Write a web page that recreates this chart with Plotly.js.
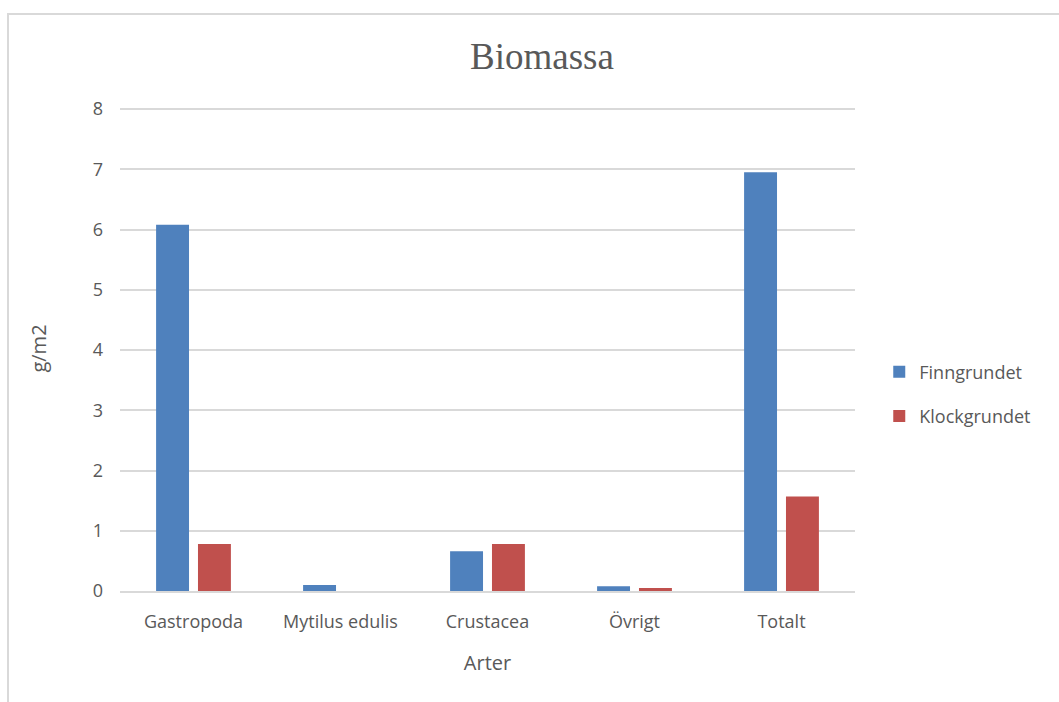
<!DOCTYPE html>
<html><head><meta charset="utf-8">
<script src="https://cdn.plot.ly/plotly-3.0.1.min.js"></script>
<style>
html,body{margin:0;padding:0;background:#fff;overflow:hidden;}
#frame{position:absolute;left:7px;top:13px;width:1100px;height:760px;border:2px solid #d9d9d9;box-sizing:border-box;}
#chart{position:absolute;left:0;top:0;width:1059px;height:702px;}
</style></head>
<body>
<div id="frame"></div>
<div id="chart"></div>
<script>
const categories = ["Gastropoda", "Mytilus edulis", "Crustacea", "Övrigt", "Totalt"];
const finngrundet = [6.08, 0.10, 0.66, 0.08, 6.95];
const klockgrundet = [0.78, 0.0, 0.78, 0.05, 1.57];
const seriesNames = ["Finngrundet", "Klockgrundet"];
const yTicks = [0, 1, 2, 3, 4, 5, 6, 7, 8];

const txt = '#595959';
const data = [
  {type:'bar', x:categories, y:finngrundet, name:seriesNames[0], legendgroup:'a', marker:{color:'#4f81bd'}},
  {type:'bar', x:categories, y:klockgrundet, name:seriesNames[1], legendgroup:'b', marker:{color:'#c0504d'}}
];
const layout = {
  width:1059, height:702,
  paper_bgcolor:'rgba(0,0,0,0)', plot_bgcolor:'rgba(0,0,0,0)',
  margin:{l:120, r:204, t:106, b:111},
  title:{text:'Biomassa', x:542/1059, xref:'container', xanchor:'center', y:1-56/702, yref:'container', yanchor:'middle', font:{family:'Liberation Serif', size:37, color:txt}},
  barmode:'group', bargap:0.43, bargroupgap:0.214,
  font:{family:'Open Sans', color:txt},
  xaxis:{
    title:{text:'Arter', font:{size:20, color:txt}, standoff:24},
    tickfont:{size:18, color:txt}, showgrid:false, zeroline:false,
    showline:true, linecolor:'#d9d9d9', linewidth:2, ticks:'', ticklabelstandoff:13
  },
  yaxis:{
    title:{text:'g/m2', font:{size:20, color:txt}, standoff:40},
    range:[0,8.05], tickvals:yTicks, ticktext:yTicks.map(String),
    tickfont:{size:18, color:txt}, gridcolor:'#d9d9d9', gridwidth:2,
    zeroline:false, showline:false, ticks:'', ticklabelstandoff:16
  },
  legend:{x:1.033, y:(591-394)/485, yanchor:'middle', xanchor:'left', font:{size:18, color:txt}, traceorder:'grouped', tracegroupgap:18, itemwidth:30},
  showlegend:true
};
Plotly.newPlot('chart', data, layout, {displayModeBar:false, staticPlot:true});
</script>
</body></html>
